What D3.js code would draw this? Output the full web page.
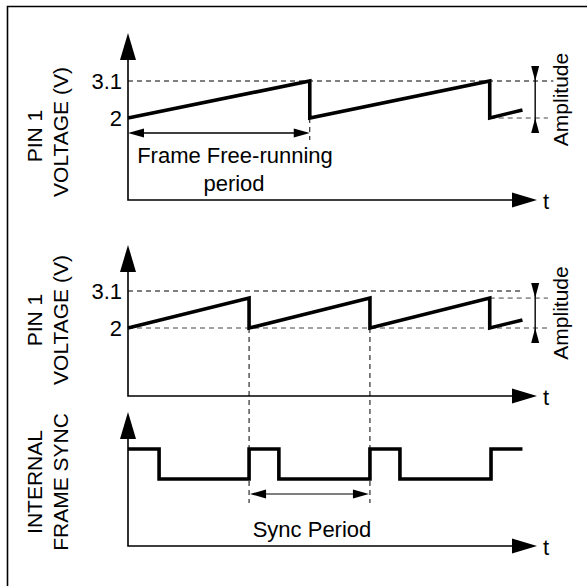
<!DOCTYPE html>
<html>
<head>
<meta charset="utf-8">
<script src="https://cdn.jsdelivr.net/npm/d3@7/dist/d3.min.js"></script>
<style>
    body { margin: 0; background: #fff; }
    text { font-family: "Liberation Sans", Arial, Helvetica, sans-serif; fill: #000; }
</style>
</head>
<body>
<div id="chart"></div>
<script>
// ###################### Data (time in free-running frame periods) ######################
const timeDomain = [0, 2.25];
const voltTicks = [2, 3.1];
const voltDomain = [2, 3.1];

// PIN 1 voltage, free-running (top)
const freeRunWave = [[0, 2], [1, 3.1], [1, 2], [1.99, 3.1], [1.99, 2], [2.17, 2.24]];
// PIN 1 voltage, synchronised (middle)
const syncedWave = [[0, 2], [0.666, 2.89], [0.666, 2], [1.331, 2.89], [1.331, 2], [1.99, 2.89], [1.99, 2], [2.17, 2.24]];
const syncedPeak = 2.89;
// internal frame sync pulse train (1 = high, 0 = low)
const syncPulse = [[0, 1], [0.171, 0], [0.666, 1], [0.83, 0], [1.331, 1], [1.496, 0], [1.997, 1], [2.17, 1]];

const freePeriod = [0, 1];
const syncPeriod = [0.666, 1.331];
const amplitudeAt = 2.24;

// ###################### Layout ######################
const W = 587, H = 586;
const svg = d3.select("#chart").append("svg")
    .attr("width", W)
    .attr("height", H);

const x = d3.scaleLinear().domain(timeDomain).range([128, 537]);
const yTop = d3.scaleLinear().domain(voltDomain).range([118, 81]);
const yMid = d3.scaleLinear().domain(voltDomain).range([328, 291]);
const ySync = d3.scaleLinear().domain([0, 1]).range([479, 449]);

const panels = [
    { tip: 33, base: 200 },
    { tip: 245, base: 396 },
    { tip: 412, base: 546 }
];

// frame (only top and left edges are in the picture)
svg.append("path")
    .attr("d", `M7.5,${H} V6.5 H${W}`)
    .attr("fill", "none")
    .attr("stroke", "#000")
    .attr("stroke-width", 1.6);

// filled triangle; dir is the direction the tip points to
function arrowHead(tx, ty, dir, len, half) {
    let pts;
    if (dir === "up") pts = [[tx, ty], [tx - half, ty + len], [tx + half, ty + len]];
    if (dir === "down") pts = [[tx, ty], [tx - half, ty - len], [tx + half, ty - len]];
    if (dir === "left") pts = [[tx, ty], [tx + len, ty - half], [tx + len, ty + half]];
    if (dir === "right") pts = [[tx, ty], [tx - len, ty - half], [tx - len, ty + half]];
    svg.append("path")
        .attr("d", "M" + pts.join("L") + "Z")
        .attr("fill", "#000");
}

function dashed(x1, y1, x2, y2, color) {
    svg.append("line")
        .attr("x1", x1).attr("y1", y1)
        .attr("x2", x2).attr("y2", y2)
        .attr("stroke", color || "#000")
        .attr("stroke-width", 1)
        .attr("stroke-dasharray", "5,4");
}

function thin(x1, y1, x2, y2, w) {
    svg.append("line")
        .attr("x1", x1).attr("y1", y1)
        .attr("x2", x2).attr("y2", y2)
        .attr("stroke", "#000")
        .attr("stroke-width", w || 1.2);
}

// ###################### Axes ######################
panels.forEach(p => {
    svg.append("path")
        .attr("d", `M${x(0)},${p.tip + 20} V${p.base} H${x.range()[1] - 20}`)
        .attr("fill", "none")
        .attr("stroke", "#000")
        .attr("stroke-width", 1.6);
    arrowHead(x(0), p.tip, "up", 27, 8);
    arrowHead(x.range()[1], p.base, "right", 25, 7.5);
    svg.append("text")
        .attr("x", x.range()[1] + 6)
        .attr("y", p.base + 9)
        .style("font-size", "22px")
        .text("t");
});

// voltage tick labels
[yTop, yMid].forEach(y => {
    const ax = svg.append("g")
        .attr("transform", `translate(${x(0)},0)`)
        .call(d3.axisLeft(y).tickValues(voltTicks).tickSize(0).tickPadding(6).tickFormat(d3.format("")));
    ax.select(".domain").remove();
    ax.selectAll("text")
        .style("font-family", '"Liberation Sans", Arial, sans-serif')
        .style("font-size", "22px")
        .attr("fill", "#000");
});

// rotated axis titles
function vLabel(text, cx, cy) {
    svg.append("text")
        .attr("transform", `translate(${cx},${cy}) rotate(-90)`)
        .attr("text-anchor", "middle")
        .style("font-size", "21px")
        .text(text);
}
vLabel("PIN 1", 42, 136);
vLabel("VOLTAGE (V)", 68, 132);
vLabel("PIN 1", 42, 320);
vLabel("VOLTAGE (V)", 68, 320);
vLabel("INTERNAL", 42, 482);
vLabel("FRAME SYNC", 68, 482);

// ###################### Guides ######################
// top panel
dashed(x(0), yTop(3.1), x(2.34), yTop(3.1));
dashed(x(1.99), yTop(2), x(2.31), yTop(2), "#444");
dashed(x(freePeriod[1]), yTop(2), x(freePeriod[1]), yTop(2) + 22);

// middle panel
dashed(x(0), yMid(3.1), x(2.16), yMid(3.1));
dashed(x(0), yMid(2), x(2.31), yMid(2), "#444");
dashed(x(1.99), yMid(syncedPeak), x(2.31), yMid(syncedPeak), "#444");
syncPeriod.forEach(t => dashed(x(t), yMid(2), x(t), 503));

// ###################### Waveforms ######################
const lineTop = d3.line().x(d => x(d[0])).y(d => yTop(d[1]));
const lineMid = d3.line().x(d => x(d[0])).y(d => yMid(d[1]));
const lineSync = d3.line().x(d => x(d[0])).y(d => ySync(d[1])).curve(d3.curveStepAfter);

[[freeRunWave, lineTop], [syncedWave, lineMid], [syncPulse, lineSync]].forEach(([data, gen]) => {
    svg.append("path")
        .datum(data)
        .attr("fill", "none")
        .attr("stroke", "#000")
        .attr("stroke-width", 3.6)
        .attr("stroke-linejoin", "miter")
        .attr("d", gen);
});

// ###################### Dimension arrows ######################
// frame free-running period
const fy = 133;
thin(x(freePeriod[0]) + 10, fy, x(freePeriod[1]) - 10, fy, 1.4);
arrowHead(x(freePeriod[0]), fy, "left", 16, 4.5);
arrowHead(x(freePeriod[1]), fy, "right", 16, 4.5);
svg.append("text")
    .attr("x", 235).attr("y", 163)
    .attr("text-anchor", "middle")
    .style("font-size", "22px")
    .text("Frame Free-running");
svg.append("text")
    .attr("x", 234).attr("y", 191)
    .attr("text-anchor", "middle")
    .style("font-size", "22px")
    .text("period");

// sync period
const sy = 494;
thin(x(syncPeriod[0]) + 10, sy, x(syncPeriod[1]) - 10, sy, 1.2);
arrowHead(x(syncPeriod[0]) + 1, sy, "left", 16, 4.5);
arrowHead(x(syncPeriod[1]) - 1, sy, "right", 16, 4.5);
svg.append("text")
    .attr("x", 312).attr("y", 537)
    .attr("text-anchor", "middle")
    .style("font-size", "22px")
    .text("Sync Period");

// amplitude markers
function amplitude(y, hi, lo) {
    const ax = x(amplitudeAt);
    thin(ax, y(hi) - 12, ax, y(lo) + 12, 1.4);
    arrowHead(ax, y(hi), "down", 15, 4);
    arrowHead(ax, y(lo), "up", 15, 4);
    svg.append("text")
        .attr("transform", `translate(568,${(y(hi) + y(lo)) / 2}) rotate(-90)`)
        .attr("text-anchor", "middle")
        .style("font-size", "21px")
        .text("Amplitude");
}
amplitude(yTop, 3.1, 2);
amplitude(yMid, syncedPeak, 2);
</script>
</body>
</html>
